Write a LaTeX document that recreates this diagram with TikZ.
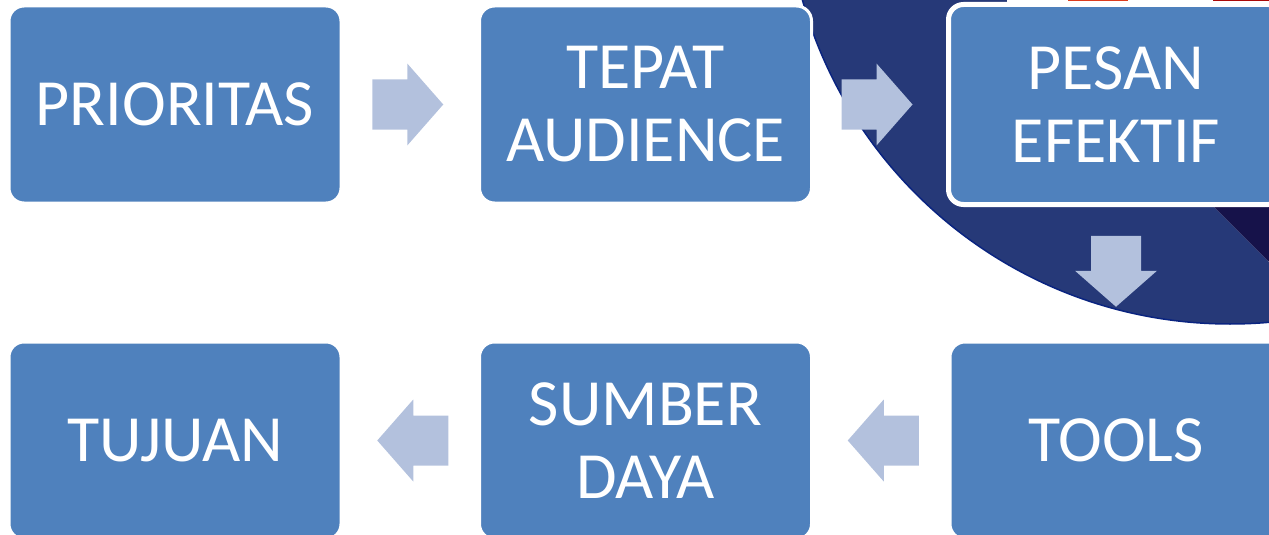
\documentclass[tikz,border=0pt]{standalone}
\usepackage{fontspec}
\setmainfont{Carlito}
\usetikzlibrary{calc}
\definecolor{boxblue}{RGB}{79,129,189}
\definecolor{arrowblue}{RGB}{179,193,221}
\definecolor{circblue}{RGB}{38,57,120}
\definecolor{darknavy}{RGB}{22,18,74}
\definecolor{edgeblue}{RGB}{10,36,128}
\definecolor{redA}{RGB}{220,60,30}
\definecolor{redB}{RGB}{170,10,10}
\begin{document}
\begin{tikzpicture}[x=1pt,y=-1pt,
  box/.style={draw=white, line width=3pt, fill=boxblue, rounded corners=15pt,
    text=white, align=center, font=\fontsize{66}{73}\selectfont,
    minimum width=332pt, minimum height=197pt, inner sep=0pt},
  blockarrow/.pic={\fill[arrowblue] (-38,-25) -- (-3,-25) -- (-3,-41) -- (33,0)
    -- (-3,41) -- (-3,25) -- (-38,25) -- cycle;}]
\useasboundingbox (0,0) rectangle (1269,535);
% background circle
\begin{scope}
  \clip (600,-10) -- (997,-10) -- (1500,493) -- (1500,700) -- (600,700) -- cycle;
  \fill[circblue] (1230,-120) circle[radius=444];
\end{scope}
\begin{scope}
  \clip (1230,-120) circle[radius=444];
  \fill[darknavy] (997,-10) -- (1500,493) -- (1500,-10) -- cycle;
\end{scope}
\draw[edgeblue, line width=1.5pt] (1230,-120) circle[radius=444];
\fill[white] (1007,-5) rectangle (1280,2);
\fill[redA] (1068,0) rectangle (1128,1.5);
\fill[redB] (1213,0) rectangle (1269,1.5);
% boxes
\node[box] (pri) at (175,104.5) {PRIORITAS};
\node[box] (aud) at (645.5,104.5) {TEPAT\\AUDIENCE};
\node[box, line width=5pt, minimum width=335pt, minimum height=200pt] (pes) at (1116,104.5) {PESAN\\EFEKTIF};
\node[box] (too) at (1116,440.5) {TOOLS};
\node[box] (sum) at (645.5,440.5) {SUMBER\\DAYA};
\node[box] (tuj) at (175,440.5) {TUJUAN};
% arrows
\pic at ($(pri.east)!0.5!(aud.west)$) {blockarrow};
\pic at ($(aud.east)!0.5!(pes.west)$) {blockarrow};
\pic[rotate=-90] at ($(pes.south)!0.5!(too.north)$) {blockarrow};
\pic[rotate=180] at ($(too.west)!0.5!(sum.east)$) {blockarrow};
\pic[rotate=180] at ($(sum.west)!0.5!(tuj.east)$) {blockarrow};
\end{tikzpicture}
\end{document}
